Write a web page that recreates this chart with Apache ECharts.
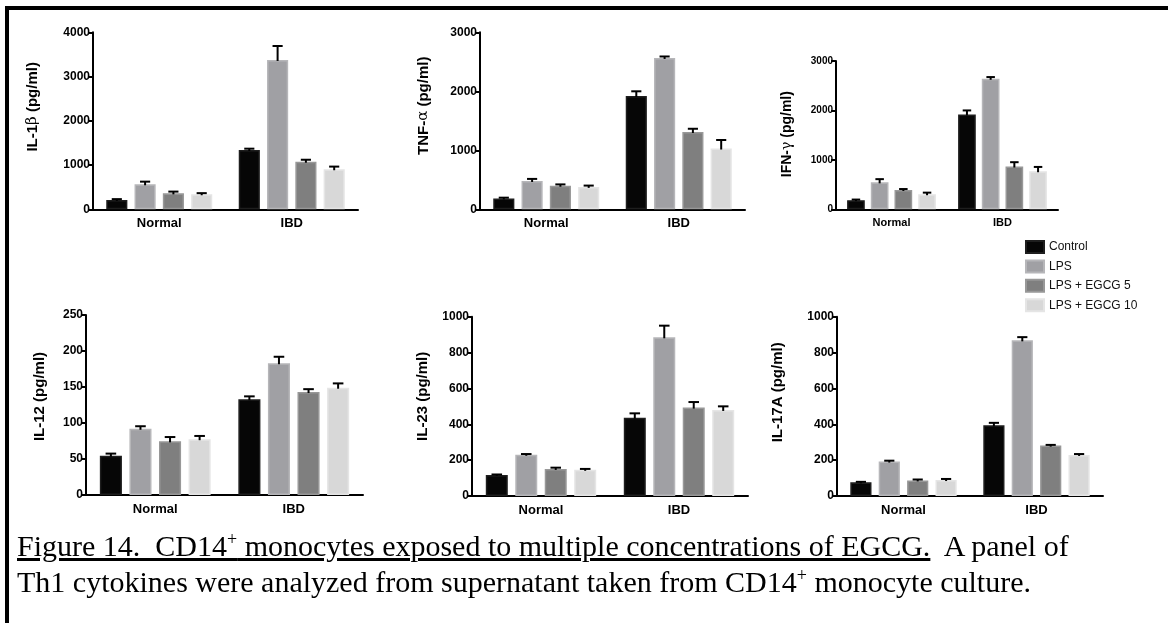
<!DOCTYPE html>
<html>
<head>
<meta charset="utf-8">
<script src="https://cdn.jsdelivr.net/npm/echarts@6/dist/echarts.min.js"></script>
<style>
  html, body { margin: 0; padding: 0; background: #fff; }
  #wrap { position: relative; width: 1168px; height: 623px; overflow: hidden; }
  #chart { position: absolute; left: 0; top: 0; width: 1168px; height: 623px; }
  #caption {
    position: absolute; left: 17px; top: 528px;
    font-family: "Liberation Serif", "Times New Roman", serif;
    font-size: 30px; line-height: 36px; color: #000; white-space: pre;
  }
  #caption sup { font-size: 60%; vertical-align: 0.6em; line-height: 0; }
</style>
</head>
<body>
<div id="wrap">
  <div id="chart"></div>
  <div id="caption"><u>Figure 14.  CD14<sup>+</sup> monocytes exposed to multiple concentrations of EGCG.</u>  A panel of
Th1 cytokines were analyzed from supernatant taken from CD14<sup>+</sup> monocyte culture.</div>
</div>
<script>
// ---------- data ----------
const categories = ['Normal', 'IBD'];
const seriesNames = ['Control', 'LPS', 'LPS + EGCG 5', 'LPS + EGCG 10'];

// each row: one treatment, values for [Normal, IBD]
const il1bMeans = [[210, 1340], [565, 3375], [360, 1075], [340, 905]];
const il1bErrs  = [[20, 30], [60, 315], [40, 45], [25, 60]];

const tnfMeans = [[185, 1920], [480, 2565], [400, 1310], [380, 1030]];
const tnfErrs  = [[12, 80], [35, 25], [22, 55], [22, 145]];

const ifnMeans = [[185, 1920], [545, 2640], [390, 865], [305, 770]];
const ifnErrs  = [[12, 80], [65, 35], [20, 88], [32, 87]];

const il12Means = [[54.5, 133], [92, 183], [74.5, 143], [77.5, 149]];
const il12Errs  = [[3, 4], [3.5, 9], [6, 4], [4.5, 6]];

const il23Means = [[117, 437], [230, 885], [151, 493], [146, 480]];
const il23Errs  = [[3, 24], [4, 65], [7, 31], [5, 20]];

const il17Means = [[76, 394], [192, 868], [87, 281], [89, 229]];
const il17Errs  = [[3, 14], [5, 18], [5, 4], [6, 5]];

// y-axis titles: [before greek, greek, after]
const titles = [
  ['IL-1', 'β', ' (pg/ml)'],
  ['TNF-', 'α', ' (pg/ml)'],
  ['IFN-', 'γ', ' (pg/ml)'],
  ['IL-12 (pg/ml)', '', ''],
  ['IL-23 (pg/ml)', '', ''],
  ['IL-17A (pg/ml)', '', '']
];
const yMax = [4000, 3000, 3000, 250, 1000, 1000];
const yInterval = [1000, 1000, 1000, 50, 200, 200];
const allMeans = [il1bMeans, tnfMeans, ifnMeans, il12Means, il23Means, il17Means];
const allErrs = [il1bErrs, tnfErrs, ifnErrs, il12Errs, il23Errs, il17Errs];

// ---------- layout / style ----------
const layout = [
  { left: 93,  top: 32.3, width: 265, height: 177,   nameGap: 53, namePad: 28, nameSize: 15, tickSize: 12, catSize: 13 },
  { left: 480, top: 32.3, width: 265, height: 177,   nameGap: 49, namePad: 30, nameSize: 15, tickSize: 12, catSize: 13 },
  { left: 836, top: 61,   width: 222, height: 148.3, nameGap: 42, namePad: 2,  nameSize: 14, tickSize: 10, catSize: 11 },
  { left: 86,  top: 315,  width: 277, height: 180,   nameGap: 39, namePad: 17, nameSize: 15, tickSize: 12, catSize: 13 },
  { left: 472, top: 316.7, width: 276, height: 179.3, nameGap: 42, namePad: 20, nameSize: 15, tickSize: 12, catSize: 13 },
  { left: 837, top: 316.7, width: 266, height: 179.3, nameGap: 52, namePad: 28, nameSize: 15, tickSize: 12, catSize: 13 }
];
const FONT = '"Liberation Sans", Arial, Helvetica, sans-serif';
const fills = ['#060606', '#a0a0a4', '#7f7f7f', '#d8d8d8'];
const edges = ['#1e1e1e', '#b6b6b9', '#989898', '#e5e5e5'];
const CAT_GAP = 0.2, BAR_GAP = 0.34;

const grids = [], xAxes = [], yAxes = [], series = [];
layout.forEach((L, g) => {
  grids.push({ left: L.left, top: L.top, width: L.width, height: L.height, containLabel: false });
  xAxes.push({
    type: 'category', gridIndex: g, data: categories,
    axisLine: { lineStyle: { color: '#000', width: 2 } },
    axisTick: { alignWithLabel: true, length: 5, lineStyle: { color: '#000', width: 2 } },
    axisLabel: { color: '#000', fontWeight: 'bold', fontSize: L.catSize, fontFamily: FONT, margin: 8 },
    splitLine: { show: false }
  });
  const t = titles[g];
  const nameStr = t[1] ? '{b|' + t[0] + '}{g|' + t[1] + '}{b|' + t[2] + '}' : '{b|' + t[0] + '}';
  yAxes.push({
    type: 'value', gridIndex: g, min: 0, max: yMax[g], interval: yInterval[g],
    axisLine: { show: true, lineStyle: { color: '#000', width: 2 } },
    axisTick: { show: true, length: 5, lineStyle: { color: '#000', width: 2 } },
    axisLabel: {
      color: '#000', fontWeight: 'bold', fontSize: L.tickSize, fontFamily: FONT, margin: 3,
      formatter: function (v) { return String(v); }
    },
    splitLine: { show: false },
    name: nameStr, nameLocation: 'middle', nameRotate: 90, nameGap: L.nameGap,
    nameTextStyle: {
      padding: [0, 0, 0, L.namePad],
      rich: {
        b: { fontWeight: 'bold', fontSize: L.nameSize, fontFamily: FONT, color: '#000' },
        g: { fontWeight: 'normal', fontSize: L.nameSize, fontFamily: '"DejaVu Serif", serif', color: '#000' }
      }
    }
  });
  const means = allMeans[g], errs = allErrs[g];
  for (let s = 0; s < 4; s++) {
    series.push({
      name: seriesNames[s], type: 'bar', xAxisIndex: g, yAxisIndex: g,
      data: means[s], barCategoryGap: (CAT_GAP * 100) + '%', barGap: (BAR_GAP * 100) + '%',
      itemStyle: { color: fills[s], borderColor: edges[s], borderWidth: 1.5 },
      silent: true
    });
  }
  for (let s = 0; s < 4; s++) {
    series.push({
      name: 'err-' + g + '-' + s, type: 'custom', xAxisIndex: g, yAxisIndex: g, silent: true, z: 5,
      data: means[s].map((m, k) => [k, m, m + errs[s][k]]),
      encode: { x: 0, y: [1, 2] },
      renderItem: function (params, api) {
        const k = api.value(0);
        const base = api.coord([k, api.value(1)]);
        const top = api.coord([k, api.value(2)]);
        const bw = api.size([1, 0])[0];
        const groupW = bw * (1 - CAT_GAP);
        const barW = groupW / (4 + 3 * BAR_GAP);
        const x = base[0] - groupW / 2 + s * barW * (1 + BAR_GAP) + barW / 2;
        const cap = barW * 0.48;
        const st = { stroke: '#000', lineWidth: 2 };
        return {
          type: 'group', children: [
            { type: 'line', shape: { x1: x, y1: base[1] + 1, x2: x, y2: top[1] }, style: st },
            { type: 'line', shape: { x1: x - cap / 2, y1: top[1], x2: x + cap / 2, y2: top[1] }, style: st }
          ]
        };
      }
    });
  }
});

const chart = echarts.init(document.getElementById('chart'), null, { renderer: 'canvas' });
chart.setOption({
  animation: false,
  backgroundColor: '#fff',
  grid: grids, xAxis: xAxes, yAxis: yAxes, series: series,
  legend: {
    data: seriesNames, orient: 'vertical', left: 1025, top: 240, padding: 0,
    itemWidth: 18, itemHeight: 12, itemGap: 5.4, icon: 'rect',
    textStyle: { fontSize: 12, fontFamily: FONT, color: '#111' },
    selectedMode: false
  },
  graphic: [
    { type: 'rect', shape: { x: 5, y: 6, width: 1163, height: 4 }, style: { fill: '#000' }, silent: true },
    { type: 'rect', shape: { x: 5, y: 6, width: 4, height: 617 }, style: { fill: '#000' }, silent: true }
  ]
});
</script>
</body>
</html>
